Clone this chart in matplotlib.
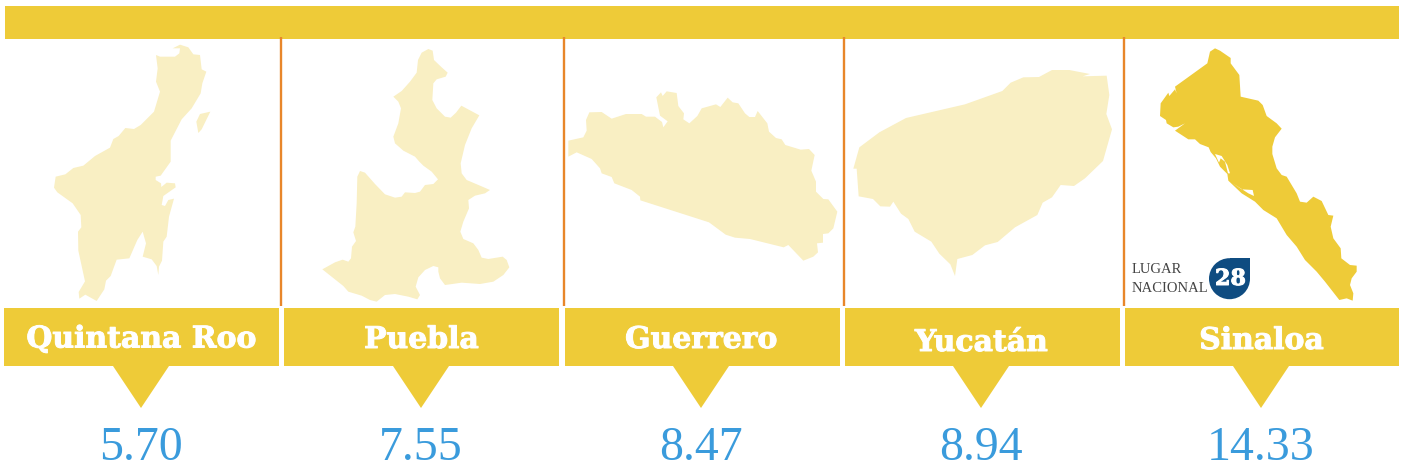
import matplotlib
matplotlib.use('Agg')
import matplotlib.pyplot as plt
import matplotlib.patheffects as pe
from matplotlib.patches import Circle, Polygon, Rectangle

states = ['Quintana Roo', 'Puebla', 'Guerrero', 'Yucatán', 'Sinaloa']
values = [5.70, 7.55, 8.47, 8.94, 14.33]
rank_label = ['LUGAR', 'NACIONAL']
rank_value = 28

# State outlines at 3x scale, relative to each crop
quintana_roo = [(518, 55), (540, 44), (565, 52), (580, 73), (600, 75), (605, 118), (619, 125), (607, 160),
                (602, 190), (575, 235), (545, 268), (512, 332), (512, 395), (482, 437), (467, 440), (467, 450),
                (483, 460), (484, 471), (500, 458), (525, 460), (527, 472), (490, 498), (485, 525), (495, 528),
                (505, 510), (522, 506), (507, 560), (500, 620), (490, 635), (486, 692), (477, 710), (475, 735),
                (470, 708), (455, 688), (428, 680), (438, 640), (428, 605), (412, 630), (388, 685), (350, 689),
                (332, 738), (318, 752), (313, 778), (290, 813), (256, 794), (238, 806), (236, 786), (255, 754),
                (235, 662), (234, 605), (244, 592), (242, 555), (218, 520), (172, 487), (162, 473), (167, 440),
                (196, 433), (220, 414), (250, 407), (285, 378), (330, 353), (340, 327), (356, 318), (376, 294),
                (402, 297), (422, 285), (462, 245), (480, 185), (468, 155), (473, 115), (468, 75), (480, 80),
                (525, 80), (538, 70), (540, 55)]
quintana_roo_island = [(600, 252), (631, 245), (605, 298), (595, 309), (589, 275)]
puebla = [(340, 200), (365, 183), (390, 155), (410, 128), (414, 90), (425, 68), (445, 57), (458, 62), (462, 90),
          (485, 112), (503, 128), (497, 140), (470, 148), (460, 160), (457, 210), (470, 235), (495, 260),
          (512, 263), (528, 248), (544, 227), (598, 256), (575, 295), (555, 345), (542, 400), (545, 430),
          (560, 450), (600, 467), (630, 480), (615, 490), (585, 497), (565, 510), (567, 535), (550, 575),
          (541, 605), (550, 627), (580, 640), (595, 660), (605, 683), (625, 687), (668, 680), (680, 690),
          (688, 712), (670, 735), (640, 755), (600, 762), (545, 758), (510, 763), (495, 765), (480, 745),
          (475, 725), (475, 712), (460, 708), (435, 720), (415, 742), (407, 770), (420, 795), (412, 808),
          (385, 800), (345, 792), (315, 795), (290, 815), (270, 810), (245, 797), (205, 785), (190, 768),
          (127, 718), (165, 697), (188, 689), (205, 695), (213, 685), (216, 650), (228, 633), (220, 607),
          (226, 590), (230, 520), (232, 440), (240, 423), (255, 428), (285, 462), (315, 493), (345, 503),
          (365, 500), (375, 487), (405, 489), (420, 485), (435, 465), (460, 462), (474, 448), (455, 425),
          (430, 407), (418, 395), (405, 380), (370, 362), (345, 340), (340, 320), (355, 280), (363, 235),
          (355, 215)]
guerrero = [(25, 242), (70, 232), (80, 212), (78, 180), (88, 157), (125, 156), (155, 176), (198, 162), (245, 162),
            (258, 170), (285, 170), (306, 186), (310, 202), (323, 184), (300, 167), (289, 112), (303, 97),
            (308, 108), (320, 94), (350, 99), (355, 138), (372, 160), (370, 178), (388, 190), (412, 168),
            (425, 145), (468, 133), (481, 141), (503, 113), (518, 127), (535, 130), (555, 160), (568, 171),
            (585, 171), (593, 153), (622, 190), (627, 215), (648, 234), (665, 238), (676, 255), (722, 269),
            (747, 267), (764, 285), (754, 332), (768, 365), (768, 395), (790, 417), (805, 418), (832, 455),
            (820, 505), (805, 520), (789, 522), (789, 548), (771, 550), (774, 577), (760, 590), (730, 602),
            (685, 555), (671, 562), (570, 537), (525, 533), (497, 524), (447, 487), (241, 421), (240, 410),
            (215, 390), (163, 370), (155, 351), (125, 340), (120, 325), (95, 297), (50, 277), (25, 290)]
yucatan = [(40, 356), (58, 292), (118, 247), (198, 204), (375, 163), (487, 123), (512, 98), (550, 82), (597, 81),
           (636, 60), (688, 60), (750, 72), (728, 79), (800, 77), (808, 135), (799, 192), (816, 238), (789, 333),
           (735, 385), (702, 408), (662, 405), (636, 442), (608, 458), (592, 495), (525, 532), (473, 576),
           (435, 586), (397, 615), (352, 627), (345, 678), (331, 643), (298, 611), (274, 575), (224, 545),
           (205, 507), (183, 491), (160, 455), (150, 470), (121, 469), (99, 447), (56, 439), (50, 356)]
sinaloa = [(262, 100), (270, 65), (285, 55), (300, 62), (332, 84), (332, 100), (358, 135), (362, 200), (415, 212),
           (428, 225), (440, 258), (470, 280), (485, 296), (465, 322), (457, 350), (457, 372), (470, 415),
           (485, 435), (500, 440), (515, 465), (530, 490), (540, 515), (560, 518), (580, 500), (605, 513),
           (625, 555), (640, 557), (632, 590), (640, 625), (662, 655), (664, 685), (690, 705), (710, 707),
           (710, 725), (695, 745), (690, 765), (700, 790), (698, 812), (680, 805), (658, 810), (615, 755),
           (590, 725), (555, 690), (530, 650), (500, 615), (470, 565), (430, 540), (405, 515), (365, 490),
           (325, 452), (322, 432), (300, 410), (288, 385), (272, 366), (266, 352), (240, 342), (225, 328),
           (205, 328), (165, 302), (195, 280), (175, 290), (160, 292), (140, 280), (138, 270), (120, 258),
           (122, 220), (145, 188), (148, 198), (165, 178), (170, 190), (165, 170)]
sinaloa_lagoon_north = [(285, 372), (305, 378), (322, 405), (330, 430), (324, 430), (315, 395), (302, 385), (297, 398)]
sinaloa_lagoon_south = [(335, 458), (365, 478), (398, 480), (402, 498), (385, 490), (362, 475)]

YELLOW = '#EECB38'
PALE = '#F9EFC3'
ORANGE = '#E8862A'
BLUE = '#3A9BDC'
NAVY = '#0F4C81'


def add_outline(ax, points, x0, y0, color):
    xy = [(x0 + x / 3, y0 + y / 3) for x, y in points]
    ax.add_patch(Polygon(xy, closed=True, facecolor=color, edgecolor='none'))


fig = plt.figure(figsize=(14.07, 4.71), dpi=100)
ax = fig.add_axes([0, 0, 1, 1])
ax.set_xlim(0, 1407)
ax.set_ylim(471, 0)
ax.axis('off')

# top band and the separators between the states
ax.add_patch(Rectangle((5, 6), 1394, 33, facecolor=YELLOW, edgecolor='none'))
for x in [280.5, 563.5, 843.5, 1123.5]:
    ax.plot([x, x], [37, 306], color=ORANGE, lw=1.7, solid_capstyle='butt')

add_outline(ax, quintana_roo, 0, 30, PALE)
add_outline(ax, quintana_roo_island, 0, 30, PALE)
add_outline(ax, puebla, 280, 30, PALE)
add_outline(ax, guerrero, 560, 60, PALE)
add_outline(ax, yucatan, 840, 50, PALE)
add_outline(ax, sinaloa, 1120, 30, YELLOW)
add_outline(ax, sinaloa_lagoon_north, 1120, 30, 'white')
add_outline(ax, sinaloa_lagoon_south, 1120, 30, 'white')

heavy = [pe.withStroke(linewidth=0.7, foreground='white')]
box_left = [4, 284, 565, 845, 1125]
box_right = [279, 559, 840, 1120, 1399]
name_baseline = [347.5, 348, 348, 351, 349]
for i, state in enumerate(states):
    centre = 141 + 280 * i
    ax.add_patch(Rectangle((box_left[i], 308), box_right[i] - box_left[i], 58,
                           facecolor=YELLOW, edgecolor='none'))
    ax.add_patch(Polygon([(centre - 28, 366), (centre + 28, 366), (centre, 408)],
                         closed=True, facecolor=YELLOW, edgecolor='none'))
    ax.text(centre + 0.5, name_baseline[i], state, family='DejaVu Serif', fontweight='bold',
            fontsize=21.5, color='white', ha='center', va='baseline', path_effects=heavy)
    ax.text(centre, 460.5, f'{values[i]:.2f}', family='Liberation Serif', fontsize=34.5,
            color=BLUE, ha='center', va='baseline')

# rank badge on the Sinaloa panel
ax.add_patch(Circle((1229.5, 278.7), 20.5, facecolor=NAVY, edgecolor='none'))
ax.add_patch(Rectangle((1229.5, 258.2), 20.5, 20.5, facecolor=NAVY, edgecolor='none'))
ax.text(1230.5, 285, str(rank_value), family='DejaVu Serif', fontweight='bold', fontsize=16,
        color='white', ha='center', va='baseline', path_effects=heavy)
ax.text(1132, 273, rank_label[0], family='Liberation Serif', fontsize=10.5, color='#444444', va='baseline')
ax.text(1132, 292, rank_label[1], family='Liberation Serif', fontsize=10.5, color='#444444', va='baseline')

fig.savefig('out.png', dpi=100, facecolor='white')
